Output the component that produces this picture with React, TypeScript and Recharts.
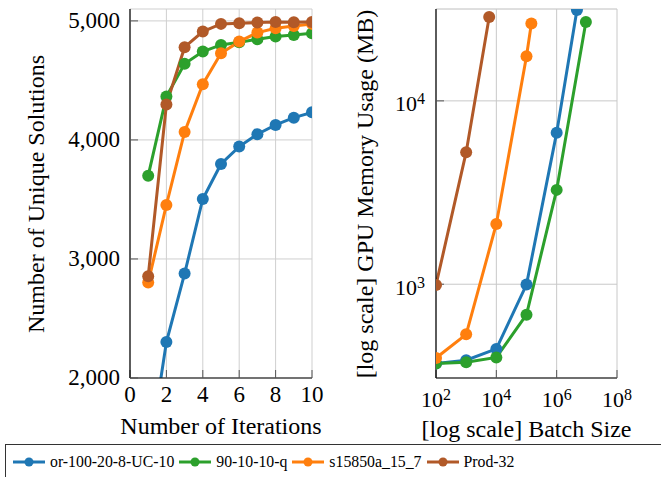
import React from "react";
import { LineChart, Line, XAxis, YAxis, CartesianGrid, Label } from "recharts";

const FONT = "'Liberation Serif', 'DejaVu Serif', serif";

// left panel: unique solutions per iteration
const iterations = [1, 2, 3, 4, 5, 6, 7, 8, 9, 10];
const uniqueOr100 = [1300, 2302, 2877, 3504, 3798, 3944, 4048, 4126, 4187, 4232];
const unique90 = [3700, 4364, 4639, 4742, 4798, 4821, 4846, 4868, 4882, 4896];
const uniqueS15850 = [2802, 3454, 4067, 4468, 4728, 4826, 4902, 4938, 4958, 4975];
const uniqueProd32 = [2855, 4297, 4779, 4910, 4975, 4980, 4986, 4990, 4988, 4990];
const iterTicks = [0, 2, 4, 6, 8, 10];
const uniqueTicks = [2000, 3000, 4000, 5000];

// right panel: GPU memory vs batch size (log-log)
const batchOr100 = [1e2, 1e3, 1e4, 1e5, 1e6, 4.7e6];
const memOr100 = [370, 385, 444, 996, 6710, 31300];
const batch90 = [1e2, 1e3, 1e4, 1e5, 1e6, 9.3e6];
const mem90 = [370, 375, 399, 682, 3270, 26900];
const batchS15850 = [1e2, 1e3, 1e4, 1e5, 1.45e5];
const memS15850 = [396, 533, 2130, 17500, 26400];
const batchProd32 = [1e2, 1e3, 5.8e3];
const memProd32 = [990, 5250, 28700];
const batchTicks = [1e2, 1e4, 1e6, 1e8];
const memTicks = [1e3, 1e4];
const memMinorTicks = [400, 500, 600, 700, 800, 900, 2000, 3000, 4000, 5000, 6000, 7000, 8000, 9000, 20000, 30000];

const series = [
  { key: "or100", name: "or-100-20-8-UC-10", color: "#1f77b4" },
  { key: "q90", name: "90-10-10-q", color: "#2ca02c" },
  { key: "s15850", name: "s15850a_15_7", color: "#ff7f0e" },
  { key: "prod32", name: "Prod-32", color: "#b15928" },
];

const leftRows = iterations.map((it, i) => ({
  it,
  or100: uniqueOr100[i],
  q90: unique90[i],
  s15850: uniqueS15850[i],
  prod32: uniqueProd32[i],
}));

const toPts = (xs: number[], ys: number[]) => xs.map((batch, i) => ({ batch, mem: ys[i] }));
const rightData: Record<string, { batch: number; mem: number }[]> = {
  or100: toPts(batchOr100, memOr100),
  q90: toPts(batch90, mem90),
  s15850: toPts(batchS15850, memS15850),
  prod32: toPts(batchProd32, memProd32),
};

const CH = 477; // chart height
const XH = CH - 378; // bottom axis band so plots end at y=378
const frame = { stroke: "#000", strokeWidth: 1.2 };
const tickStroke = { stroke: "#555", strokeWidth: 1 };

function XNumTick(props: any) {
  const { x, y, payload } = props;
  return (
    <text x={x} y={y + 23.5} textAnchor="middle" fontFamily={FONT} fontSize={23} fill="#000">
      {payload.value}
    </text>
  );
}

function YNumTick(props: any) {
  const { x, y, payload } = props;
  return (
    <text x={x - 10} y={y + 7} textAnchor="end" fontFamily={FONT} fontSize={23} fill="#000">
      {Number(payload.value).toLocaleString("en-US")}
    </text>
  );
}

function PowTick(props: any) {
  const { x, y, payload, vertical } = props;
  const exp = Math.round(Math.log10(payload.value));
  return (
    <text
      x={vertical ? x - 11 : x}
      y={vertical ? y + 10.5 : y + 28.5}
      textAnchor={vertical ? "end" : "middle"}
      fontFamily={FONT}
      fontSize={22}
      fill="#000"
    >
      10
      <tspan dy={-7} fontSize={16}>
        {exp}
      </tspan>
    </text>
  );
}

function XTitle({ viewBox, value, drop }: any) {
  const cx = viewBox.x + viewBox.width / 2;
  return (
    <text x={cx} y={viewBox.y + drop} textAnchor="middle" fontFamily={FONT} fontSize={24} fill="#000">
      {value}
    </text>
  );
}

function YTitle({ bx, cy, value }: any) {
  return (
    <text
      x={bx}
      y={cy}
      transform={`rotate(-90, ${bx}, ${cy})`}
      textAnchor="middle"
      fontFamily={FONT}
      fontSize={24}
      fill="#000"
    >
      {value}
    </text>
  );
}

function LeftChart() {
  return (
    <LineChart width={330} height={CH} data={leftRows} margin={{ top: 9, right: 18, bottom: 0, left: 0 }}>
      <CartesianGrid xAxisId="b" yAxisId="l" stroke="#cfcfcf" />
      <XAxis
        xAxisId="b"
        dataKey="it"
        type="number"
        domain={[0, 10]}
        ticks={iterTicks}
        interval={0}
        height={XH}
        tickSize={-8}
        tickMargin={8}
        tick={<XNumTick />}
        axisLine={frame}
        tickLine={tickStroke}
        allowDataOverflow
      >
        <Label content={<XTitle value="Number of Iterations" drop={56} />} />
      </XAxis>
      <XAxis
        xAxisId="t"
        orientation="top"
        dataKey="it"
        type="number"
        domain={[0, 10]}
        ticks={iterTicks}
        interval={0}
        height={0}
        tickSize={-8}
        tick={false}
        axisLine={frame}
        tickLine={tickStroke}
        allowDataOverflow
      />
      <YAxis
        yAxisId="l"
        type="number"
        domain={[2000, 5100]}
        ticks={uniqueTicks}
        interval={0}
        width={130}
        tickSize={-8}
        tickMargin={8}
        tick={<YNumTick />}
        axisLine={frame}
        tickLine={tickStroke}
        allowDataOverflow
      >
        <Label content={() => <YTitle bx={44} cy={194} value="Number of Unique Solutions" />} />
      </YAxis>
      <YAxis
        yAxisId="r"
        orientation="right"
        type="number"
        domain={[2000, 5100]}
        ticks={uniqueTicks}
        interval={0}
        width={0}
        tickSize={-8}
        tick={false}
        axisLine={frame}
        tickLine={tickStroke}
        allowDataOverflow
      />
      {series.map((s) => (
        <Line
          key={s.key}
          xAxisId="b"
          yAxisId="l"
          dataKey={s.key}
          stroke={s.color}
          strokeWidth={3}
          dot={{ r: 6, fill: s.color, stroke: s.color, strokeWidth: 0 }}
          isAnimationActive={false}
        />
      ))}
    </LineChart>
  );
}

function RightChart() {
  return (
    <LineChart width={331} height={CH} margin={{ top: 9, right: 44, bottom: 0, left: 0 }}>
      <CartesianGrid xAxisId="b" yAxisId="minorR" stroke="#ececec" vertical={false} />
      <CartesianGrid xAxisId="b" yAxisId="l" stroke="#c8c8c8" />
      <XAxis
        xAxisId="b"
        dataKey="batch"
        type="number"
        scale="log"
        domain={[1e2, 1e8]}
        ticks={batchTicks}
        interval={0}
        height={XH}
        tickSize={-8}
        tickMargin={8}
        tick={<PowTick />}
        axisLine={frame}
        tickLine={tickStroke}
        allowDataOverflow
      >
        <Label content={<XTitle value="[log scale] Batch Size" drop={59} />} />
      </XAxis>
      <XAxis
        xAxisId="t"
        orientation="top"
        dataKey="batch"
        type="number"
        scale="log"
        domain={[1e2, 1e8]}
        ticks={batchTicks}
        interval={0}
        height={0}
        tickSize={-8}
        tick={false}
        axisLine={frame}
        tickLine={tickStroke}
        allowDataOverflow
      />
      <YAxis
        yAxisId="minorL"
        type="number"
        scale="log"
        domain={[308, 31700]}
        ticks={memMinorTicks}
        interval={0}
        width={0}
        tickSize={-5}
        tick={false}
        axisLine={false}
        tickLine={tickStroke}
        allowDataOverflow
      />
      <YAxis
        yAxisId="l"
        type="number"
        scale="log"
        domain={[308, 31700]}
        ticks={memTicks}
        interval={0}
        width={106}
        tickSize={-8}
        tickMargin={8}
        tick={<PowTick vertical />}
        axisLine={frame}
        tickLine={tickStroke}
        allowDataOverflow
      >
        <Label content={() => <YTitle bx={43} cy={194} value="[log scale] GPU Memory Usage (MB)" />} />
      </YAxis>
      <YAxis
        yAxisId="minorR"
        orientation="right"
        type="number"
        scale="log"
        domain={[308, 31700]}
        ticks={memMinorTicks}
        interval={0}
        width={0}
        tickSize={-5}
        tick={false}
        axisLine={frame}
        tickLine={tickStroke}
        allowDataOverflow
      />
      <YAxis
        yAxisId="majorR"
        orientation="right"
        type="number"
        scale="log"
        domain={[308, 31700]}
        ticks={memTicks}
        interval={0}
        width={0}
        tickSize={-8}
        tick={false}
        axisLine={false}
        tickLine={tickStroke}
        allowDataOverflow
      />
      {series.map((s) => (
        <Line
          key={s.key}
          data={rightData[s.key]}
          xAxisId="b"
          yAxisId="l"
          dataKey="mem"
          stroke={s.color}
          strokeWidth={3}
          dot={{ r: 6, fill: s.color, stroke: s.color, strokeWidth: 0 }}
          isAnimationActive={false}
        />
      ))}
    </LineChart>
  );
}

function LegendBox() {
  return (
    <div
      style={{
        position: "absolute",
        left: 5,
        top: 444,
        width: 700,
        height: 36,
        boxSizing: "border-box",
        border: "1px solid #333",
        background: "#fff",
        display: "flex",
        alignItems: "center",
        paddingLeft: 7,
      }}
    >
      {series.map((s) => (
        <div key={s.key} style={{ display: "flex", alignItems: "center", marginRight: 5 }}>
          <svg width={32} height={12}>
            <line x1={0} y1={6} x2={32} y2={6} stroke={s.color} strokeWidth={3} />
            <circle cx={16} cy={6} r={4.5} fill={s.color} />
          </svg>
          <span style={{ marginLeft: 5, fontFamily: FONT, fontSize: 15.8, lineHeight: "18px", color: "#000" }}>
            {s.name}
          </span>
        </div>
      ))}
    </div>
  );
}

export default function App() {
  return (
    <div style={{ position: "absolute", left: 0, top: 0, width: 661, height: 477, background: "#fff", overflow: "hidden" }}>
      <div style={{ position: "absolute", left: 0, top: 0 }}>
        <LeftChart />
      </div>
      <div style={{ position: "absolute", left: 330, top: 0 }}>
        <RightChart />
      </div>
      <LegendBox />
    </div>
  );
}
